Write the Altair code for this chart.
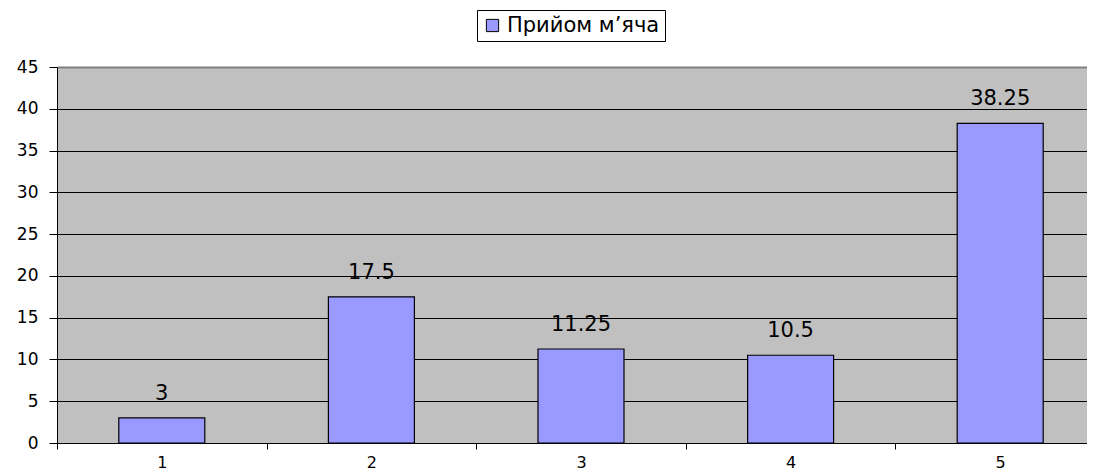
import altair as alt
import pandas as pd

categories = ["1", "2", "3", "4", "5"]
values = [3, 17.5, 11.25, 10.5, 38.25]
series_name = "Прийом м’яча"
labels = ["3", "17.5", "11.25", "10.5", "38.25"]

df = pd.DataFrame({"cat": categories, "val": values, "lab": labels, "series": [series_name] * 5})

FONT = "DejaVu Sans"

x = alt.X("cat:O", title=None,
          scale=alt.Scale(paddingInner=0, paddingOuter=0, range=[0, 1048]),
          axis=alt.Axis(labelAngle=0, tickBand="extent", domainColor="black", tickColor="black",
                        tickSize=6, labelPadding=5, labelFont=FONT, labelFontSize=16,
                        labelColor="black", grid=False))
y = alt.Y("val:Q", title=None,
          scale=alt.Scale(domain=[0, 45], nice=False),
          axis=alt.Axis(values=list(range(0, 50, 5)), domainColor="black", tickColor="black",
                        tickSize=8, labelPadding=11, labelFont=FONT, labelFontSize=17,
                        labelColor="black", grid=True,
                        gridColor={"condition": {"test": "datum.value == 45", "value": "#808080"}, "value": "black"},
                        gridWidth={"condition": {"test": "datum.value == 45", "value": 2}, "value": 1}))

bars = alt.Chart(df).mark_bar(size=86, stroke="black", strokeWidth=1.2).encode(
    x=x, y=y,
    color=alt.Color("series:N", title=None,
                    scale=alt.Scale(domain=[series_name], range=["#9999FF"]),
                    legend=alt.Legend(orient="none", legendX=420, legendY=-57,
                                      fillColor="white", strokeColor="black",
                                      padding=5, symbolType="square", symbolSize=150,
                                      symbolStrokeColor="black", symbolStrokeWidth=1,
                                      labelFont=FONT, labelFontSize=21, labelColor="black",
                                      labelLimit=400)),
)

text = alt.Chart(df).mark_text(baseline="bottom", dy=-14, font=FONT, fontSize=21, color="black").encode(
    x="cat:O", y="val:Q", text="lab:N"
)

chart = (bars + text).properties(
    width=1030, height=376,
    autosize=alt.AutoSizeParams(type="none"),
    padding={"left": 49, "top": 59, "right": 0, "bottom": 30},
    background="white",
).configure_view(fill="#C0C0C0", strokeWidth=0)

chart.save("out.html", embed_options={"renderer": "svg", "actions": False})
